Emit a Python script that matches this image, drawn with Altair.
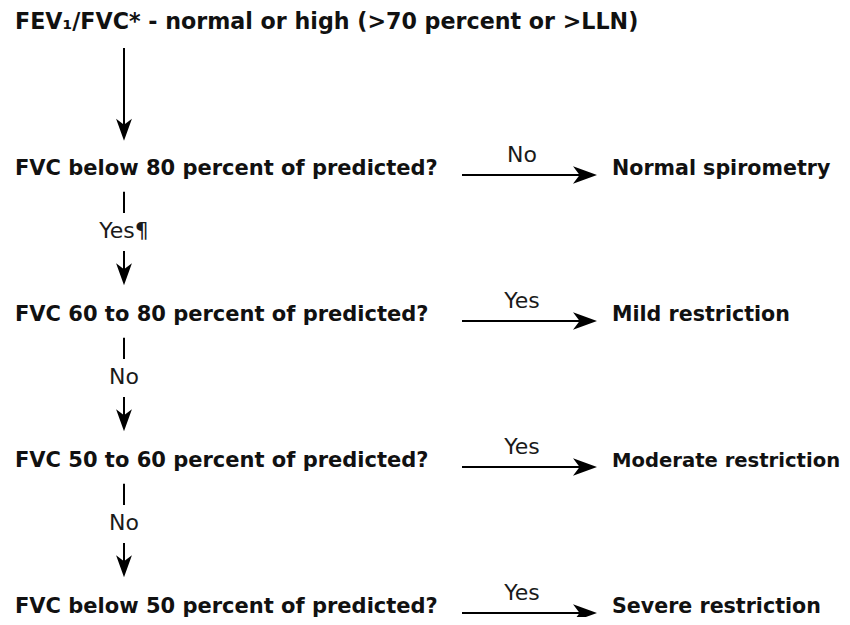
import altair as alt
import pandas as pd

# ---- content of the flowchart ----
questions = [
    "FEV\u2081/FVC* - normal or high (>70 percent or >LLN)",
    "FVC below 80 percent of predicted?",
    "FVC 60 to 80 percent of predicted?",
    "FVC 50 to 60 percent of predicted?",
    "FVC below 50 percent of predicted?",
]
outcomes = ["Normal spirometry", "Mild restriction", "Moderate restriction", "Severe restriction"]
side_labels = ["No", "Yes", "Yes", "Yes"]          # label over each horizontal arrow (rows 1-4)
down_labels = ["Yes\u00b6", "No", "No"]            # label on the vertical links (rows 1->2, 2->3, 3->4)

FONT = "DejaVu Sans"
# layout columns (page pixels) and row offsets (in row units)
X_LEFT, X_STEM, X_A0, X_A1, X_RIGHT, X_LAB = 15, 124, 462, 597, 612, 522

q_df = pd.DataFrame({"label": questions[1:], "row": list(range(1, len(questions))), "x": X_LEFT})
t_df = pd.DataFrame({"label": questions[:1], "row": [0], "x": X_LEFT})
o_df = pd.DataFrame({"label": outcomes, "row": list(range(1, 5)), "x": X_RIGHT})
s_df = pd.DataFrame({"label": side_labels, "row": [r - 0.09 for r in range(1, 5)], "x": X_LAB})
d_df = pd.DataFrame({"label": down_labels, "row": [r + 0.43 for r in range(1, 4)], "x": X_STEM})

# horizontal arrows
h_df = pd.DataFrame({"row": list(range(1, 5)), "x": X_A0, "x2": X_A1 - 14, "head": X_A1 - 12})
# vertical stems above labels
v1_df = pd.DataFrame({"row": [r + 0.115 for r in range(1, 4)],
                      "row2": [r + 0.26 for r in range(1, 4)], "x": X_STEM})
# vertical arrows (first long one + three short)
v2_df = pd.DataFrame({"row": [0.13] + [r + 0.52 for r in range(1, 4)],
                      "row2": [0.69] + [r + 0.68 for r in range(1, 4)],
                      "head": [0.69] + [r + 0.68 for r in range(1, 4)], "x": X_STEM})

xs = alt.Scale(domain=[8, 842], nice=False, zero=False)
ys = alt.Scale(domain=[-0.1438, 4.0274], reverse=True, nice=False, zero=False)
X = lambda f: alt.X(f, type="quantitative", scale=xs, axis=None)
Y = lambda f: alt.Y(f, type="quantitative", scale=ys, axis=None)

base_txt = dict(font=FONT, fontWeight="bold", color="#111111", baseline="alphabetic", align="left")
lab_txt = dict(font=FONT, fontSize=22, color="#1a1a1a", baseline="alphabetic", align="center")

tt = alt.Chart(t_df).mark_text(fontSize=22.2, **base_txt).encode(x=X("x"), y=Y("row"), text="label")
qt = alt.Chart(q_df).mark_text(fontSize=21, **base_txt).encode(x=X("x"), y=Y("row"), text="label")
ot = alt.Chart(o_df).mark_text(**base_txt).encode(
    x=X("x"), y=Y("row"), text="label",
    size=alt.condition("length(datum.label) > 18", alt.value(19.6), alt.value(20.6)),
)
st = alt.Chart(s_df).mark_text(**lab_txt).encode(x=X("x"), y=Y("row"), text="label")
dt = alt.Chart(d_df).mark_text(**lab_txt).encode(x=X("x"), y=Y("row"), text="label")

hr = alt.Chart(h_df).mark_rule(color="black", strokeWidth=2).encode(x=X("x"), x2="x2", y=Y("row"))
hh = alt.Chart(h_df).mark_point(shape="M1,0L-1,-0.72L-0.45,0L-1,0.72Z", filled=True, size=576,
                                color="black", opacity=1, strokeWidth=0).encode(x=X("head"), y=Y("row"))
v1 = alt.Chart(v1_df).mark_rule(color="black", strokeWidth=2).encode(x=X("x"), y=Y("row"), y2="row2")
v2 = alt.Chart(v2_df).mark_rule(color="black", strokeWidth=2).encode(x=X("x"), y=Y("row"), y2="row2")
vh = alt.Chart(v2_df).mark_point(shape="M0,1L-0.72,-1L0,-0.45L0.72,-1Z", filled=True, size=484,
                                 color="black", opacity=1, strokeWidth=0).encode(x=X("x"), y=Y("head"))

chart = alt.layer(hr, hh, v1, v2, vh, tt, qt, ot, st, dt).properties(
    width=834, height=609, padding=0,
    autosize=alt.AutoSizeParams(type="none"),
    background="white",
).configure_view(stroke=None)

chart.save("out.html", embed_options={"renderer": "svg", "actions": False})
